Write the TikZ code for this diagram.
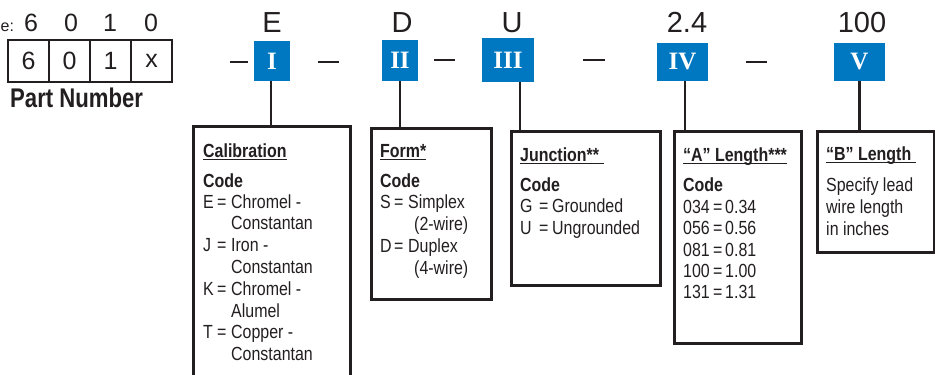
\documentclass[tikz,border=0pt]{standalone}
\usepackage{fontspec}
\setmainfont{Liberation Sans}
\newfontfamily\condsf[FakeStretch=0.84]{Liberation Sans}
\newfontfamily\partsf[FakeStretch=0.82]{Liberation Sans}
\newfontfamily\romfont{Liberation Serif}
\definecolor{bluebox}{HTML}{0077C1}
\definecolor{ink}{HTML}{231F20}
\newcommand\ttl[1]{\setbox0\hbox{#1}\rlap{\rule[-3pt]{\wd0}{1.3pt}}\box0}
\newcommand\cl[4]{\makebox[#1][l]{#3}\makebox[#2][l]{=}#4}
\tikzset{
  digitbox/.style={draw=ink, line width=2pt, minimum width=41pt, minimum height=42pt,
    inner sep=0pt, font=\fontsize{25}{25}\selectfont, text=ink},
  topdigit/.style={anchor=base, inner sep=0pt, font=\fontsize{25}{25}\selectfont, text=ink},
  toplabel/.style={anchor=base, inner sep=0pt, font=\fontsize{29}{29}\selectfont, text=ink},
  romanbox/.style={fill=bluebox, text=white, inner sep=0pt,
    font=\romfont\bfseries\fontsize{25}{25}\selectfont},
  infobox/.style={draw=ink, line width=2.6pt, anchor=north west, inner sep=0pt},
  link/.style={draw=ink, line width=2.6pt},
  sep/.style={draw=ink, line width=2.6pt},
  txt/.style={anchor=base west, inner sep=0pt, font=\condsf\fontsize{19}{19}\selectfont, text=ink},
  ttltxt/.style={txt, font=\condsf\bfseries\fontsize{19}{19}\selectfont},
}
\begin{document}
\begin{tikzpicture}[x=1pt,y=-1pt]
\path[use as bounding box, clip] (0,0) rectangle (935,375);
\fill[white] (0,0) rectangle (935,375);

% example label and digits
\node[anchor=base west, inner sep=0pt, font=\fontsize{16}{16}\selectfont, text=ink] (ex) at (0.5,31) {e:};
\node[topdigit] (t1) at (31,31) {6};
\node[topdigit] (t2) at (71,31) {0};
\node[topdigit] (t3) at (110,31) {1};
\node[topdigit] (t4) at (151,31) {0};

\node[digitbox] (d1) at (28.5,61) {6};
\node[digitbox] (d2) at (69.5,61) {0};
\node[digitbox] (d3) at (110.5,61) {1};
\node[digitbox] (d4) at (151.5,61) {x};

\node[anchor=base west, inner sep=0pt, font=\partsf\bfseries\fontsize{27}{27}\selectfont, text=ink] (pn) at (10,107) {Part Number};

% separators
\coordinate (s1a) at (230,62); \coordinate (s1b) at (248,62);
\coordinate (s2a) at (318,62); \coordinate (s2b) at (339,62);
\coordinate (s3a) at (434,60); \coordinate (s3b) at (455,60);
\coordinate (s4a) at (583,60); \coordinate (s4b) at (605,60);
\coordinate (s5a) at (746,62); \coordinate (s5b) at (767,62);
\foreach \s in {1,...,5} \draw[sep] (s\s a) -- (s\s b);

% example codes
\node[toplabel] (lE) at (272,32) {E};
\node[toplabel] (lD) at (402,32) {D};
\node[toplabel] (lU) at (512,32) {U};
\node[toplabel] (l24) at (687,32) {2.4};
\node[toplabel] (l100) at (862,32) {100};

% roman boxes
\node[romanbox, minimum width=36pt, minimum height=40pt] (b1) at (272,61) {I};
\node[romanbox, minimum width=36pt, minimum height=41pt] (b2) at (400,60.5) {II};
\node[romanbox, minimum width=52pt, minimum height=44pt] (b3) at (508,60) {III};
\node[romanbox, minimum width=51pt, minimum height=38pt] (b4) at (682.5,62) {IV};
\node[romanbox, minimum width=51pt, minimum height=38pt] (b5) at (859.5,62) {V};

% info boxes
\node[infobox, minimum width=157pt, minimum height=280pt] (cal) at (192,125) {};
\node[infobox, minimum width=120pt, minimum height=171pt] (form) at (370,127) {};
\node[infobox, minimum width=149pt, minimum height=154pt] (junc) at (510,130) {};
\node[infobox, minimum width=127pt, minimum height=212pt] (alen) at (673,130) {};
\node[infobox, minimum width=117pt, minimum height=121pt] (blen) at (816,130) {};

% connectors
\draw[link] ([xshift=-1pt]b1.south) -- ([xshift=-1pt]b1.south |- cal.north);
\draw[link] (b2.south) -- (b2.south |- form.north);
\draw[link] ([xshift=12pt]b3.south) -- ([xshift=12pt]b3.south |- junc.north);
\draw[link] ([xshift=2.5pt]b4.south) -- ([xshift=2.5pt]b4.south |- alen.north);
\draw[link] (b5.south) -- (b5.south |- blen.north);

% Calibration
\node[ttltxt] (calT) at (203,157) {\ttl{Calibration}};
\node[ttltxt] (calC) at (203,187) {Code};
\node[txt] (cal1) at (203,208) {\cl{14pt}{14pt}{E}{Chromel -}};
\node[txt] (cal2) at (231,229.8) {Constantan};
\node[txt] (cal3) at (203,251.6) {\cl{14pt}{14pt}{J}{Iron -}};
\node[txt] (cal4) at (231,273.4) {Constantan};
\node[txt] (cal5) at (203,295.2) {\cl{14pt}{14pt}{K}{Chromel -}};
\node[txt] (cal6) at (231,317) {Alumel};
\node[txt] (cal7) at (203,338.8) {\cl{14pt}{14pt}{T}{Copper -}};
\node[txt] (cal8) at (231,360.6) {Constantan};

% Form
\node[ttltxt] (formT) at (380,157) {\ttl{Form*}};
\node[ttltxt] (formC) at (380,187) {Code};
\node[txt] (form1) at (380,208) {\cl{14pt}{14pt}{S}{Simplex}};
\node[txt] (form2) at (414,230) {(2-wire)};
\node[txt] (form3) at (380,252) {\cl{14pt}{14pt}{D}{Duplex}};
\node[txt] (form4) at (414,274) {(4-wire)};

% Junction
\node[ttltxt] (juncT) at (520,161) {\ttl{Junction**\ }};
\node[ttltxt] (juncC) at (520,191) {Code};
\node[txt] (junc1) at (520,212.5) {\cl{19pt}{13pt}{G}{Grounded}};
\node[txt] (junc2) at (520,234) {\cl{19pt}{13pt}{U}{Ungrounded}};

% A length
\node[ttltxt] (alenT) at (683,161) {\ttl{“A” Length***}};
\node[ttltxt] (alenC) at (683,191) {Code};
\node[txt] (alen1) at (683,213) {\cl{30pt}{12pt}{034}{0.34}};
\node[txt] (alen2) at (683,234.5) {\cl{30pt}{12pt}{056}{0.56}};
\node[txt] (alen3) at (683,256) {\cl{30pt}{12pt}{081}{0.81}};
\node[txt] (alen4) at (683,277) {\cl{30pt}{12pt}{100}{1.00}};
\node[txt] (alen5) at (683,298) {\cl{30pt}{12pt}{131}{1.31}};

% B length
\node[ttltxt] (blenT) at (826,160) {\ttl{“B” Length\ }};
\node[txt] (blen1) at (826,191) {Specify lead};
\node[txt] (blen2) at (826,213) {wire length};
\node[txt] (blen3) at (826,235) {in inches};
\end{tikzpicture}
\end{document}
